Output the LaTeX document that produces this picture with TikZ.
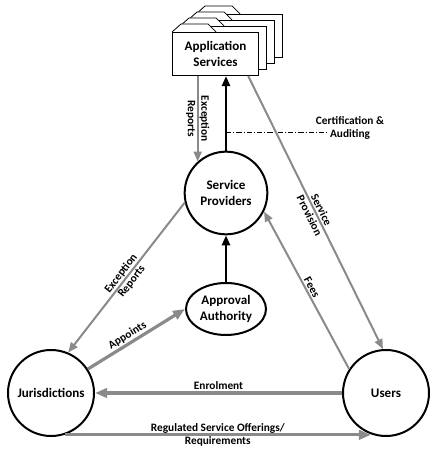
\documentclass[tikz,border=0pt]{standalone}
\usepackage{fontspec}
\setmainfont{Carlito}
\usepackage{tikz}
\usetikzlibrary{positioning}
\usetikzlibrary{shapes.geometric,arrows.meta}
\usepackage{xcolor}
\definecolor{arrowgray}{RGB}{138,138,138}

\begin{document}
\begin{tikzpicture}[x=0.75pt, y=0.75pt, every node/.style={font=\bfseries\fontsize{9.8}{12}\selectfont, align=center},
		party/.style={draw, circle, line width=1.5pt, minimum size=64.5pt, inner sep=0},
		card/.style={draw, fill=white, line width=0.6pt, minimum width=64.5pt, minimum height=32.5pt, inner sep=0},
		tab/.style={draw, fill=white, line width=0.6pt},
		flowlabel/.style={font=\bfseries\fontsize{8.5}{10}\selectfont, text=black, inner sep=1pt},
		grayline/.style={draw=arrowgray, line width=1.5pt, -{Triangle[length=7.5pt, width=6pt]}},
		graythick/.style={grayline, line width=2.4pt, -{Triangle[length=9pt, width=7pt]}},
		blackline/.style={draw=black, line width=2.2pt, -{Triangle[length=7.5pt, width=6pt]}}]
		\useasboundingbox (0,0) rectangle (443,452);
		
		%Nodes
		\node[party, minimum size=62pt] (providers) at (226,259) {Service\\Providers};
		\node[draw, ellipse, line width=1.5pt, minimum width=60pt, minimum height=39pt, inner sep=0] (authority) [below=35pt of providers] {Approval\\Authority};
		\node[party] (jurisdictions) at (51,59) {Jurisdictions};
		\node[party] (users) at (386,59) {Users};
		
		%Application services (stack of cards)
		\coordinate (appspos) at (215.5,398);
		\foreach \k in {3,2,1} {
			\node[card] (card\k) at ([shift={(8*\k,6*\k)}]appspos) {};
			\draw[tab] (card\k.north west) -- ++(9,8) -- ++(27,0) -- ++(8,-8);
		}
		\node[card] (apps) at (appspos) {Application\\Services};
		\draw[tab] (apps.north west) -- ++(9,8) -- ++(27,0) -- ++(8,-8);
		
		\node[flowlabel] (cert) at (350,324) {Certification \&\\Auditing};
		\coordinate (certend) at (327,320);
		
		%Lines
		\draw[blackline] (providers.north) -- (providers.north |- apps.south);
		\draw[blackline] (authority.north) -- (providers.south);
		\draw[dash pattern=on 4pt off 1.5pt on 0.75pt off 1.5pt, line width=0.6pt] (providers.north |- certend) -- (certend);
		\draw[grayline] (apps.south -| providers.132) -- node[flowlabel, rotate=-90] {Exception\\Reports} (providers.132);
		\draw[grayline] ([xshift=-8pt]apps.south east) -- node[flowlabel, sloped] {Service\\Provision} (users.94);
		\draw[grayline] (users.147) -- node[flowlabel, sloped, above] {Fees} (providers.-26);
		\draw[grayline] (providers.193) -- node[flowlabel, sloped] {Exception\\Reports} (jurisdictions.67);
		\draw[graythick] (jurisdictions.33) -- node[flowlabel, sloped, above, pos=0.45] {Appoints} (authority.west);
		\draw[graythick] (users) -- node[flowlabel, above] {Enrolment} (jurisdictions);
		\draw[graythick] (jurisdictions.-72) -- node[flowlabel] {Regulated Service Offerings/\\Requirements} (jurisdictions.-72 -| users.250);
	\end{tikzpicture}
\end{document}
